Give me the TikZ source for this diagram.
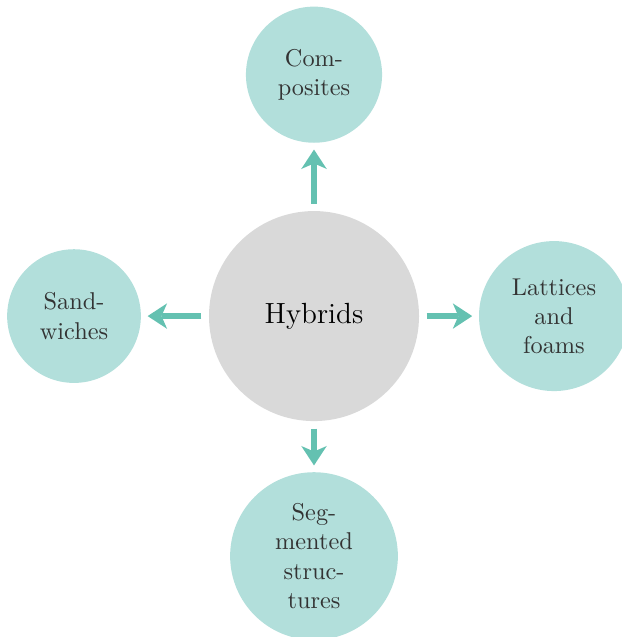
\documentclass[tikz,border=0pt]{standalone}
\usepackage{xcolor}
\usepackage{tikz}
\usetikzlibrary{arrows.meta}

\definecolor{hybgray}{HTML}{D9D9D9}
\definecolor{subteal}{HTML}{B2DFDB}
\definecolor{arrteal}{HTML}{64C1B1}

\begin{document}
\begin{tikzpicture}[
		hub/.style={circle,fill=hybgray,minimum size=86.4pt,inner sep=0pt,font=\large},
		sub/.style={circle,fill=subteal,inner sep=0pt,align=center,text=black!80},
		growarrow/.style={-{Stealth[length=8pt,width=10.5pt,inset=2.3pt,line width=0pt]},line width=2.6pt,color=arrteal,shorten <=2.9pt,shorten >=2.6pt}
	]
			\useasboundingbox (-4.54,-4.64) rectangle (4.44,4.57);
			\node[hub] (H) at (0,0) {Hybrids};
			\node[sub,minimum size=56pt] (C) at (0,3.49) {Com-\\posites};
			\node[sub,minimum size=55pt] (S) at (-3.47,0) {Sand-\\wiches};
			\node[sub,minimum size=61.7pt] (L) at (3.47,0) {Lattices\\and\\foams};
			\node[sub,minimum size=69pt] (G) at (0,-3.47) {Seg-\\mented\\struc-\\tures};
			%
			\path[growarrow]
				(H) edge (C)
				(H) edge (S)
				(H) edge (L)
				(H) edge (G);
		\end{tikzpicture}
\end{document}
